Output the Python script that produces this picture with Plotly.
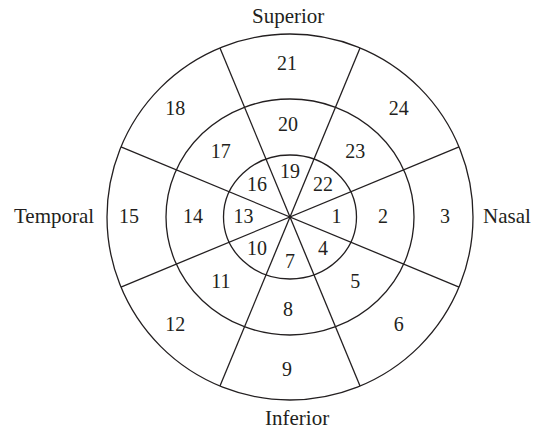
import math
import plotly.graph_objects as go

# ---- data ----
sector_names = ["Nasal", "Inferior-nasal", "Inferior", "Inferior-temporal",
                "Temporal", "Superior-temporal", "Superior", "Superior-nasal"]
inner_ring = [1, 4, 7, 10, 13, 16, 19, 22]
middle_ring = [2, 5, 8, 11, 14, 17, 20, 23]
outer_ring = [3, 6, 9, 12, 15, 18, 21, 24]
direction_labels = ["Superior", "Nasal", "Inferior", "Temporal"]

# ---- geometry (pixel-like data units, y axis reversed) ----
W, H = 536, 430
cx, cy = 290, 217
ring_rx = [66.5, 124, 183]
ring_ry = [62, 118, 183]
label_cx = [290, 288, 287]
label_rx = [46.5, 95, 158]
label_ry = [45, 92.5, 153]
n_sectors = len(inner_ring)
step = 360 / n_sectors
ink = "#231f20"
font_family = "Liberation Serif, Times New Roman, serif"
num_size = 20
dir_size = 21

fig = go.Figure()

# ring outlines
shapes = []
for rx, ry in zip(ring_rx, ring_ry):
    shapes.append(dict(type="circle", xref="x", yref="y",
                       x0=cx - rx, x1=cx + rx, y0=cy - ry, y1=cy + ry,
                       line=dict(color=ink, width=1.3)))

# sector boundary lines (through the centre, out to the outer ring)
R = ring_rx[2]
lx, ly = [], []
for k in range(n_sectors // 2):
    a = math.radians(step / 2 + k * step)
    lx += [cx + R * math.cos(a), cx - R * math.cos(a), None]
    ly += [cy - R * math.sin(a), cy + R * math.sin(a), None]
fig.add_trace(go.Scatter(x=lx, y=ly, mode="lines",
                         line=dict(color=ink, width=1.3),
                         hoverinfo="skip", showlegend=False))

# region numbers
tx, ty, tt = [], [], []
for ring, lcx, rx, ry in zip([inner_ring, middle_ring, outer_ring],
                             label_cx, label_rx, label_ry):
    for i, num in enumerate(ring):
        a = math.radians(-i * step)
        tx.append(lcx + rx * math.cos(a))
        ty.append(cy - ry * math.sin(a) + 1)
        tt.append(str(num))
fig.add_trace(go.Scatter(x=tx, y=ty, text=tt, mode="text",
                         textfont=dict(family=font_family, size=num_size, color=ink),
                         hoverinfo="skip", showlegend=False))

# direction labels
dir_pos = {"Superior": (288, 16), "Nasal": (507, 216),
           "Inferior": (297, 418), "Temporal": (53.5, 216)}
annotations = []
for name in direction_labels:
    x, y = dir_pos[name]
    annotations.append(dict(x=x, y=y, xref="x", yref="y", text=name,
                            showarrow=False, xanchor="center", yanchor="middle",
                            font=dict(family=font_family, size=dir_size, color=ink)))

fig.update_layout(
    width=W, height=H, autosize=False,
    margin=dict(l=0, r=0, t=0, b=0),
    paper_bgcolor="white", plot_bgcolor="white",
    shapes=shapes, annotations=annotations,
    xaxis=dict(range=[0, W], visible=False, fixedrange=True),
    yaxis=dict(range=[H, 0], visible=False, fixedrange=True),
    showlegend=False,
)

fig.write_html("out.html", config={"displayModeBar": False},
               post_script="document.body.style.margin='0';document.body.style.overflow='hidden';")
